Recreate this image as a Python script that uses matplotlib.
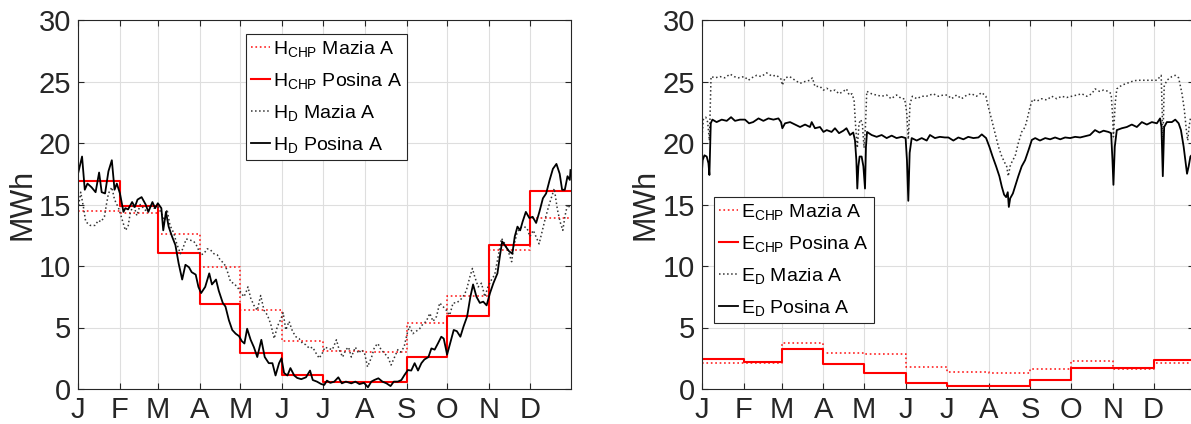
import matplotlib
matplotlib.use("Agg")
import matplotlib.pyplot as plt

plt.rcParams['font.family'] = ['Liberation Sans', 'DejaVu Sans']
plt.rcParams['mathtext.fontset'] = 'custom'
plt.rcParams['mathtext.rm'] = 'Liberation Sans'
plt.rcParams['mathtext.it'] = 'Liberation Sans'

months = ['J', 'F', 'M', 'A', 'M', 'J', 'J', 'A', 'S', 'O', 'N', 'D']
month_start = [0, 31, 59, 90, 120, 151, 181, 212, 243, 273, 304, 334]
year_end = 364

# monthly heat from the CHP units [MWh]
h_chp_mazia = [14.5, 14.3, 12.6, 9.9, 6.4, 3.9, 3.05, 3.0, 5.4, 7.6, 11.3, 13.9]
h_chp_posina = [16.9, 14.9, 11.07, 6.94, 2.93, 1.11, 0.58, 0.58, 2.58, 5.91, 11.69, 16.08]

# monthly electricity from the CHP units [MWh]
e_chp_mazia = [2.14, 2.1, 3.76, 2.95, 2.84, 1.76, 1.35, 1.3, 1.6, 2.27, 1.65, 2.08]
e_chp_posina = [2.46, 2.19, 3.27, 2.05, 1.3, 0.49, 0.24, 0.24, 0.73, 1.73, 1.68, 2.38]

# daily heat demand, Posina
hd_posina_day = [0, 3, 5, 7, 10, 13, 15.6, 17.5, 20, 22.5, 25, 27, 28.7, 31, 33.6, 35, 37,
                 40, 42, 44, 47, 50, 52, 55, 57, 59, 61.6, 63, 65, 67, 69.5, 72, 74.4, 77,
                 79.4, 82, 84, 87, 89, 91, 94, 97, 99, 102, 104, 107, 109, 111.5, 114, 116.5,
                 119, 121, 123, 125, 127.6, 130, 132.5, 135.5, 138, 141, 143.7, 146, 148.6,
                 150.4, 152.3, 154.8, 157, 159.8, 162, 165, 168.5, 171.5, 173.5, 176.6, 179.8,
                 182, 184, 186.5, 189.4, 192.4, 195, 198, 202, 205, 208, 211.4, 214.3, 216.8,
                 219, 222, 225, 228, 231, 233.4, 236.4, 239, 241.3, 243.8, 246.3, 248.8,
                 251.3, 253.8, 256, 259, 261.2, 263.6, 266, 268.5, 270.3, 272.8, 275, 277.7,
                 280, 282.6, 285, 287.6, 290, 292, 294.5, 297, 299.5, 302, 304.5, 307, 310,
                 311.8, 313.5, 316, 318.6, 321, 322.8, 324.8, 326.8, 328.6, 331, 333.6, 336,
                 338.6, 341, 343.6, 346, 348.6, 351, 353.6, 356, 357.8, 359.8, 361.8, 363.5, 364]
hd_posina = [17.5, 18.9, 16.2, 16.7, 16.4, 16.0, 17.6, 16.0, 15.9, 17.7, 18.6, 16.2, 16.7,
             15.9, 14.4, 14.7, 14.6, 15.2, 14.8, 15.4, 15.6, 15.0, 14.4, 15.2, 14.7, 15.1,
             14.7, 12.9, 14.4, 13.2, 12.4, 11.7, 10.2, 8.9, 10.1, 9.9, 9.5, 9.3, 8.3, 7.8,
             8.3, 9.4, 8.5, 8.9, 8.0, 7.0, 6.7, 5.6, 4.8, 4.5, 4.3, 3.9, 3.7, 4.9, 4.0, 3.4,
             2.6, 4.0, 2.6, 2.1, 2.1, 1.1, 2.1, 2.5, 1.3, 1.1, 1.7, 1.1, 0.9, 0.8, 0.95, 1.5,
             0.73, 0.6, 0.4, 0.33, 0.68, 0.5, 0.6, 0.95, 0.46, 0.6, 0.46, 0.6, 0.4, 0.5, 0.14,
             0.6, 0.73, 0.87, 0.6, 0.46, 0.24, 0.6, 0.6, 0.73, 1.14, 1.54, 1.5, 2.1, 1.5, 2.1,
             2.4, 2.6, 3.3, 3.2, 3.7, 4.25, 4.1, 2.8, 3.7, 4.8, 4.7, 4.25, 5.1, 5.9, 7.5, 8.5,
             7.5, 7.0, 7.1, 6.8, 7.8, 8.6, 9.4, 10.8, 12.0, 11.6, 11.2, 11.0, 12.4, 13.2, 12.9,
             13.6, 14.4, 13.9, 14.0, 13.5, 14.4, 15.5, 15.9, 17.0, 17.9, 18.3, 17.5, 16.2,
             16.2, 17.3, 17.0, 17.8]

# daily heat demand, Mazia
hd_mazia_day = [0, 2, 4, 5.7, 9, 12.6, 15, 17, 19.5, 21, 22.5, 25, 27, 30, 32, 35, 37, 38.6,
                41, 43.5, 46, 48.5, 51, 53.4, 56, 59, 61.6, 64, 65.8, 68, 70.7, 73, 75.7,
                77.4, 80, 83, 85.6, 88, 90.5, 93, 95.5, 98, 100.4, 103, 105, 108, 110, 112.8,
                115, 117.7, 120, 122.6, 124, 125.6, 127.6, 130, 132.5, 135, 137.5, 140,
                142.4, 145, 147.4, 150, 151.6, 153.6, 156, 158.5, 161, 163.4, 166, 168.4,
                171, 173.4, 176, 178.3, 181, 182.5, 185, 188, 191, 193, 195.6, 198, 200, 202,
                205, 207.4, 209.4, 211.8, 214, 217, 219.1, 221.6, 224, 226.5, 229, 231.4, 234,
                236.4, 238.4, 241, 243, 245, 247.5, 250, 252.5, 255, 257.4, 260, 262.4, 265,
                267.3, 269.8, 272.3, 274.7, 277.2, 279.7, 282.2, 284.6, 287, 289.6, 291.5,
                293.3, 295.8, 298.2, 300.7, 303, 305.7, 308, 310.6, 313, 315.5, 318, 320.5,
                322, 324.4, 326.8, 329.3, 331.8, 334, 336.5, 339, 340.8, 342.7, 345, 347.7,
                350, 352, 354.3, 356.3, 358.3, 360, 361.8, 363.8, 364]
hd_mazia = [14.6, 16.0, 14.8, 13.6, 13.3, 13.3, 13.7, 13.6, 14.0, 15.0, 15.9, 16.4, 15.4,
            14.7, 14.0, 12.9, 13.2, 14.3, 15.0, 14.1, 15.0, 14.7, 14.4, 15.0, 14.7, 14.8,
            14.3, 13.7, 14.6, 13.3, 12.7, 11.8, 11.0, 11.4, 12.2, 12.1, 12.0, 11.6, 10.9,
            11.0, 11.4, 11.3, 11.0, 10.9, 10.5, 10.2, 9.7, 8.7, 8.6, 8.3, 7.9, 7.5, 7.8,
            8.3, 7.4, 6.8, 6.4, 7.6, 6.4, 6.0, 5.3, 4.1, 5.1, 5.7, 6.2, 4.8, 5.5, 4.7, 4.25,
            4.1, 3.7, 3.6, 3.3, 3.4, 2.9, 2.5, 3.0, 3.4, 3.3, 3.2, 4.0, 3.2, 2.6, 3.2, 3.4,
            2.6, 3.4, 2.9, 3.2, 2.9, 1.8, 2.6, 3.4, 3.7, 3.2, 2.9, 2.6, 1.95, 2.6, 3.2, 3.0,
            3.4, 4.4, 5.1, 4.5, 4.7, 4.9, 5.3, 5.5, 6.15, 5.5, 5.9, 7.0, 6.7, 6.4, 6.0, 7.0,
            7.0, 7.2, 7.5, 8.0, 9.1, 9.8, 9.1, 8.3, 8.6, 7.5, 8.3, 8.9, 9.3, 10.8, 12.25,
            11.8, 11.2, 10.35, 11.6, 12.65, 13.1, 13.2, 13.1, 12.4, 12.9, 12.25, 11.8, 12.65,
            13.7, 14.8, 15.6, 16.3, 14.6, 13.6, 12.9, 14.1, 15.0, 14.7, 14.8]

# daily electricity demand, Mazia
ed_mazia_day = [0, 1.2, 3, 4.4, 5.7, 6.9, 9.9, 13.5, 17, 21, 24, 27, 31.5, 34.5, 37, 40.6,
                44, 48, 51.7, 55.4, 58.6, 59.6, 61.6, 65, 69, 72.7, 76.4, 80, 81.8, 83.7,
                87.4, 90, 92.4, 96, 98.5, 101.5, 104.7, 107, 109, 111, 112.6, 113.8, 115,
                116.3, 117.5, 118.7, 120, 121, 122, 125.6, 129, 133, 136.7, 140, 144, 147.8,
                150, 151.5, 152.7, 154, 155.7, 159, 162.6, 166, 168.7, 171, 175, 178.6, 181.5,
                184.7, 188.4, 192, 196, 199.5, 203, 207, 210, 211.8, 214.3, 216.8, 219.3,
                221.8, 224.2, 225.4, 226.6, 227.9, 229.8, 231.6, 234, 236.5, 239, 240.7,
                242.7, 244.6, 247.6, 251.3, 255, 258.7, 262.4, 266, 269.8, 273.5, 277.2,
                280.9, 284.6, 288.3, 290.7, 294, 297, 300.6, 302.6, 303.6, 304.3, 305.6,
                306.8, 310.5, 314.2, 317.9, 321.6, 325.3, 329, 332.7, 336.4, 338.8, 339.6,
                340.3, 340.8, 341.8, 343.8, 347.5, 350, 352.5, 355, 356.7, 358.2, 359.2,
                360.2, 361.2, 362, 364]
ed_mazia = [20.2, 21.9, 22.1, 21.7, 20.2, 25.4, 25.3, 25.4, 25.3, 25.6, 25.4, 25.3, 25.4,
            25.1, 25.3, 25.5, 25.4, 25.7, 25.45, 25.5, 25.2, 24.7, 25.3, 25.4, 25.1, 24.85,
            25.0, 25.1, 25.3, 24.6, 24.6, 24.3, 24.45, 24.2, 24.3, 24.0, 24.2, 24.4, 23.9,
            24.0, 23.5, 21.3, 19.6, 21.6, 21.9, 21.6, 19.6, 21.3, 24.2, 24.0, 23.9, 23.8,
            23.9, 23.6, 23.9, 23.6, 23.6, 22.5, 20.3, 23.2, 23.8, 23.6, 23.8, 23.8, 23.9,
            24.0, 23.8, 23.9, 23.9, 23.6, 23.9, 23.6, 23.9, 24.0, 23.8, 24.1, 23.8, 22.95,
            21.9, 20.8, 19.7, 18.9, 18.35, 18.1, 17.3, 18.1, 18.6, 18.9, 20.0, 20.9, 21.3,
            22.0, 22.95, 23.55, 23.4, 23.6, 23.5, 23.8, 23.6, 23.8, 23.7, 23.8, 23.9, 24.0,
            23.8, 24.0, 24.4, 24.2, 24.3, 24.2, 24.0, 22.4, 20.5, 23.2, 24.4, 24.7, 24.85,
            25.0, 25.1, 25.1, 25.1, 25.1, 25.1, 25.4, 25.5, 22.7, 19.6, 24.6, 25.1, 25.4,
            25.5, 25.3, 24.0, 22.7, 21.05, 20.2, 21.3, 22.0, 22.1, 22.1]

# daily electricity demand, Posina
ed_posina_day = [0, 0.7, 2, 3.7, 5, 5.7, 6.7, 7.9, 11, 14.8, 18.5, 21.7, 24.6, 28.3, 32, 35,
                 38, 42, 45.6, 49.3, 53, 56.7, 58.6, 59.6, 61.6, 65.3, 69, 72.7, 76.4, 80,
                 81.3, 83.7, 87.4, 90, 92.4, 96, 98.5, 101.5, 104.7, 107, 109.6, 112, 113.3,
                 114.3, 115, 115.8, 116.7, 118.2, 119.5, 120.7, 121.4, 122.2, 125.6, 129.3,
                 133, 136.7, 140.4, 144, 147.8, 150.7, 151.7, 152.7, 153.7, 155.2, 158.9,
                 162.6, 166.3, 168.7, 172.4, 176, 179.8, 182.3, 186, 189.7, 193.4, 197, 200.8,
                 204.5, 207, 210.2, 212.6, 215, 217.6, 220, 221.8, 223.5, 225, 226.2, 227, 228,
                 230, 231.6, 234, 236.5, 239, 241.5, 244, 246.5, 250, 253.9, 257.5, 261.2, 265,
                 268.6, 272.3, 276, 279.7, 283.4, 287, 290.7, 294, 297, 300.6, 302.6, 303.6,
                 304.3, 305.3, 306.8, 310.5, 314.2, 317.9, 321.6, 325.3, 329, 332.7, 336.4,
                 338.8, 339.8, 340.8, 341.8, 343.8, 347.5, 350, 352.5, 354.2, 356.2, 357.7,
                 358.7, 359.9, 361.2, 362, 364]
ed_posina = [17.4, 18.6, 19.0, 18.9, 18.35, 17.4, 21.6, 21.9, 21.7, 21.9, 21.8, 22.1, 21.8,
             21.9, 21.9, 21.6, 21.7, 22.0, 21.8, 22.0, 21.9, 22.0, 21.7, 21.2, 21.6, 21.7,
             21.5, 21.3, 21.5, 21.3, 21.7, 21.2, 21.3, 20.9, 21.05, 20.9, 21.2, 20.8, 21.0,
             21.2, 20.65, 20.85, 20.2, 18.6, 16.3, 18.1, 18.9, 18.9, 18.1, 16.3, 19.7, 20.9,
             20.65, 20.5, 20.65, 20.4, 20.6, 20.4, 20.5, 20.4, 18.6, 15.3, 19.2, 20.4, 20.2,
             20.4, 20.2, 20.65, 20.4, 20.5, 20.45, 20.45, 20.2, 20.45, 20.3, 20.5, 20.4,
             20.45, 20.7, 20.4, 19.7, 18.9, 18.1, 17.3, 16.45, 15.8, 15.6, 16.0, 14.8, 15.5,
             15.9, 16.45, 17.3, 18.1, 18.6, 19.4, 20.25, 20.4, 20.2, 20.4, 20.3, 20.45, 20.3,
             20.45, 20.4, 20.5, 20.45, 20.55, 20.65, 21.05, 20.85, 21.0, 20.9, 20.8, 18.6,
             16.6, 19.7, 21.05, 21.2, 21.3, 21.5, 21.3, 21.7, 21.5, 21.7, 21.6, 22.0, 21.3,
             17.3, 21.3, 21.7, 21.7, 21.9, 21.6, 21.05, 19.7, 18.35, 17.5, 18.1, 18.9, 19.0,
             19.0]

ink = '#262626'
grid_col = '#dedede'

fig = plt.figure(figsize=(11.91, 4.24), dpi=100)
ax1 = fig.add_axes([78 / 1191, 35 / 424, 492.5 / 1191, 369 / 424])
ax2 = fig.add_axes([701.7 / 1191, 35 / 424, 492.5 / 1191, 369 / 424])

edges = month_start + [year_end]


def monthly_step(ax, vals, **kw):
    return ax.step(edges, vals + [vals[-1]], where='post', **kw)


monthly_step(ax1, h_chp_mazia, color='#ff2020', ls=':', lw=1.2,
             label=r'H$_{\mathrm{CHP}}$ Mazia A')
monthly_step(ax1, h_chp_posina, color='#ff0000', ls='-', lw=1.5,
             label=r'H$_{\mathrm{CHP}}$ Posina A')
ax1.plot(hd_mazia_day, hd_mazia, color='#333333', ls=':', lw=1.1, label=r'H$_{\mathrm{D}}$ Mazia A')
ax1.plot(hd_posina_day, hd_posina, color='black', ls='-', lw=1.3, label=r'H$_{\mathrm{D}}$ Posina A')

monthly_step(ax2, e_chp_mazia, color='#ff2020', ls=':', lw=1.2,
             label=r'E$_{\mathrm{CHP}}$ Mazia A')
monthly_step(ax2, e_chp_posina, color='#ff0000', ls='-', lw=1.5,
             label=r'E$_{\mathrm{CHP}}$ Posina A')
ax2.plot(ed_mazia_day, ed_mazia, color='#333333', ls=':', lw=1.1, label=r'E$_{\mathrm{D}}$ Mazia A')
ax2.plot(ed_posina_day, ed_posina, color='black', ls='-', lw=1.3, label=r'E$_{\mathrm{D}}$ Posina A')

for ax in (ax1, ax2):
    ax.set_xlim(0, year_end)
    ax.set_ylim(0, 30)
    ax.set_xticks(month_start)
    ax.set_xticklabels(months)
    ax.set_yticks(range(0, 31, 5))
    ax.grid(True, color=grid_col, lw=0.8)
    ax.set_axisbelow(True)
    ax.tick_params(direction='in', length=4, width=0.8, colors=ink, labelsize=21,
                   top=True, right=True, pad=5)
    for s in ax.spines.values():
        s.set_color(ink)
        s.set_linewidth(0.8)
    ax.set_ylabel('MWh', fontsize=22, color=ink, labelpad=1)

leg_kw = dict(fontsize=14, frameon=True, fancybox=False, framealpha=1,
              edgecolor=ink, handlelength=1.0, handletextpad=0.15,
              labelspacing=0.62, borderpad=0.25, borderaxespad=0, loc='upper left')
l1 = ax1.legend(bbox_to_anchor=(0.341, 0.962), **leg_kw)
l2 = ax2.legend(bbox_to_anchor=(0.025, 0.52), **leg_kw)
for lg in (l1, l2):
    lg.get_frame().set_linewidth(0.8)

fig.savefig('out.png', dpi=100)
